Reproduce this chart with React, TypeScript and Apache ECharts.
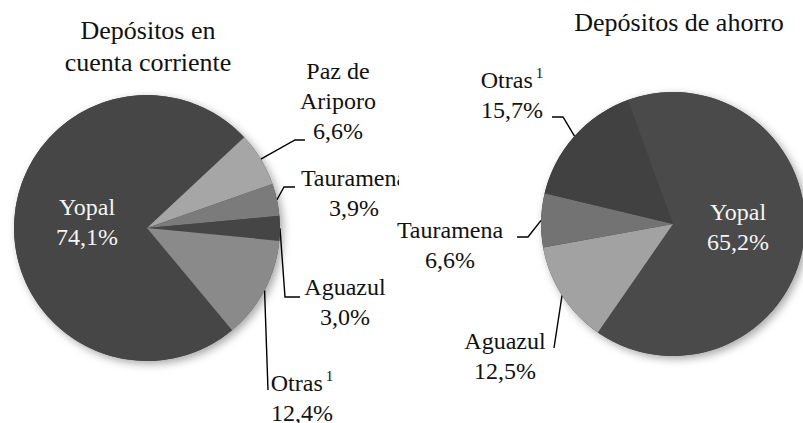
import React, { useEffect, useRef } from 'react';
import * as echarts from 'echarts';

const FONT = 'Liberation Serif';

// Left chart: Depósitos en cuenta corriente
const leftTitle = 'Depósitos en\ncuenta corriente';
const leftCategories = ['Yopal', 'Paz de Ariporo', 'Tauramena', 'Aguazul', 'Otras'];
const leftShares = [74.1, 6.6, 3.9, 3.0, 12.4];
const leftColors = ['#464646', '#a6a6a6', '#7b7b7b', '#454545', '#8a8a8a'];

// Right chart: Depósitos de ahorro
const rightTitle = 'Depósitos de ahorro';
const rightCategories = ['Yopal', 'Aguazul', 'Tauramena', 'Otras'];
const rightShares = [65.2, 12.5, 6.6, 15.7];
const rightColors = ['#4a4a4a', '#a2a2a2', '#737373', '#414141'];

// Label display text
const labelNames: Record<string, string> = {
  'Paz de Ariporo': 'Paz de\nAriporo',
  Otras: 'Otras{sup|1}',
};

type Pt = [number, number];
type LabelPos = { x: number; y: number; line?: Pt[] };

// Layout (page coordinates)
const leftLayout = {
  offsetX: 0,
  center: [147, 228] as Pt,
  radius: 133,
  startAngle: 309.8,
  titlePos: [148, 46] as Pt,
  labels: {
    Yopal: { x: 87, y: 222 },
    'Paz de Ariporo': { x: 338, y: 101, line: [[295, 140], [305, 140]] },
    Tauramena: { x: 354, y: 193, line: [[284, 187], [295, 187]] },
    Aguazul: { x: 345, y: 302, line: [[285, 297], [300, 297]] },
    Otras: { x: 302, y: 398, line: [[268, 390], [268, 390]] },
  } as Record<string, LabelPos>,
};

const rightLayout = {
  offsetX: 390,
  center: [673, 224] as Pt,
  radius: 132,
  startAngle: 110,
  titlePos: [679, 22] as Pt,
  labels: {
    Yopal: { x: 738, y: 227 },
    Otras: { x: 512, y: 95, line: [[563, 117], [552, 117]] },
    Tauramena: { x: 450, y: 245, line: [[528, 237], [517, 237]] },
    Aguazul: { x: 505, y: 356, line: [[554, 348], [554, 348]] },
  } as Record<string, LabelPos>,
};

const fmt = (v: number) => v.toFixed(1).replace('.', ',') + '%';

function buildOption(
  title: string,
  categories: string[],
  shares: number[],
  colors: string[],
  layout: typeof leftLayout
) {
  const ox = layout.offsetX;
  const cx = layout.center[0] - ox;
  const cy = layout.center[1];
  return {
    animation: false,
    graphic: [
      {
        type: 'text',
        x: layout.titlePos[0] - ox,
        y: layout.titlePos[1],
        silent: true,
        style: {
          text: title,
          fill: '#111',
          fontSize: 26,
          fontFamily: FONT,
          lineHeight: 32,
          align: 'center',
          verticalAlign: 'middle',
        },
      },
    ],
    series: [
      {
        type: 'pie',
        silent: true,
        z: 1,
        center: [cx, cy],
        radius: layout.radius,
        data: [{ value: 1, name: 'shadow' }],
        itemStyle: {
          color: '#4a4a4a',
          shadowBlur: 8,
          shadowOffsetX: 3,
          shadowOffsetY: 3,
          shadowColor: 'rgba(0,0,0,0.35)',
        },
        label: { show: false },
        labelLine: { show: false },
      },
      {
        type: 'pie',
        z: 2,
        silent: true,
        center: [cx, cy],
        radius: layout.radius,
        startAngle: layout.startAngle,
        clockwise: true,
        avoidLabelOverlap: false,
        data: categories.map((c, i) => ({
          name: c,
          value: shares[i],
          itemStyle: { color: colors[i] },
          label: c === 'Yopal' ? { color: '#f4f4f4' } : undefined,
          labelLine: c === 'Yopal' ? { show: false } : undefined,
        })),
        label: {
          show: true,
          position: 'outside',
          fontFamily: FONT,
          fontSize: 24,
          lineHeight: 30,
          color: '#111',
          overflow: 'none',
          width: 170,
          formatter: (p: any) => `${labelNames[p.name] ?? p.name}\n${fmt(p.value)}`,
          rich: {
            sup: {
              fontFamily: FONT,
              fontSize: 15,
              lineHeight: 18,
              verticalAlign: 'top',
              padding: [0, 0, 0, 3],
              color: '#111',
            },
          },
        },
        labelLine: {
          show: true,
          lineStyle: { color: '#000', width: 1.4 },
        },
        labelLayout: (p: any) => {
          const name = categories[p.dataIndex];
          const lp = layout.labels[name];
          const out: any = { x: lp.x - ox, y: lp.y, align: 'center', verticalAlign: 'middle' };
          if (lp.line && p.labelLinePoints && p.labelLinePoints.length) {
            out.labelLinePoints = [
              p.labelLinePoints[0],
              [lp.line[0][0] - ox, lp.line[0][1]],
              [lp.line[1][0] - ox, lp.line[1][1]],
            ];
          }
          return out;
        },
      },
    ],
  };
}

export default function App() {
  const leftRef = useRef<HTMLDivElement>(null);
  const rightRef = useRef<HTMLDivElement>(null);

  useEffect(() => {
    const l = echarts.init(leftRef.current!, undefined, { renderer: 'svg' });
    const r = echarts.init(rightRef.current!, undefined, { renderer: 'svg' });
    l.setOption(buildOption(leftTitle, leftCategories, leftShares, leftColors, leftLayout) as any);
    r.setOption(buildOption(rightTitle, rightCategories, rightShares, rightColors, rightLayout) as any);
    return () => {
      l.dispose();
      r.dispose();
    };
  }, []);

  return (
    <div
      style={{
        position: 'fixed',
        left: 0,
        top: 0,
        width: 803,
        height: 423,
        background: '#fff',
        overflow: 'hidden',
      }}
    >
      <div ref={leftRef} style={{ position: 'absolute', left: 0, top: 0, width: 399, height: 423 }} />
      <div ref={rightRef} style={{ position: 'absolute', left: 390, top: 0, width: 413, height: 423 }} />
    </div>
  );
}
